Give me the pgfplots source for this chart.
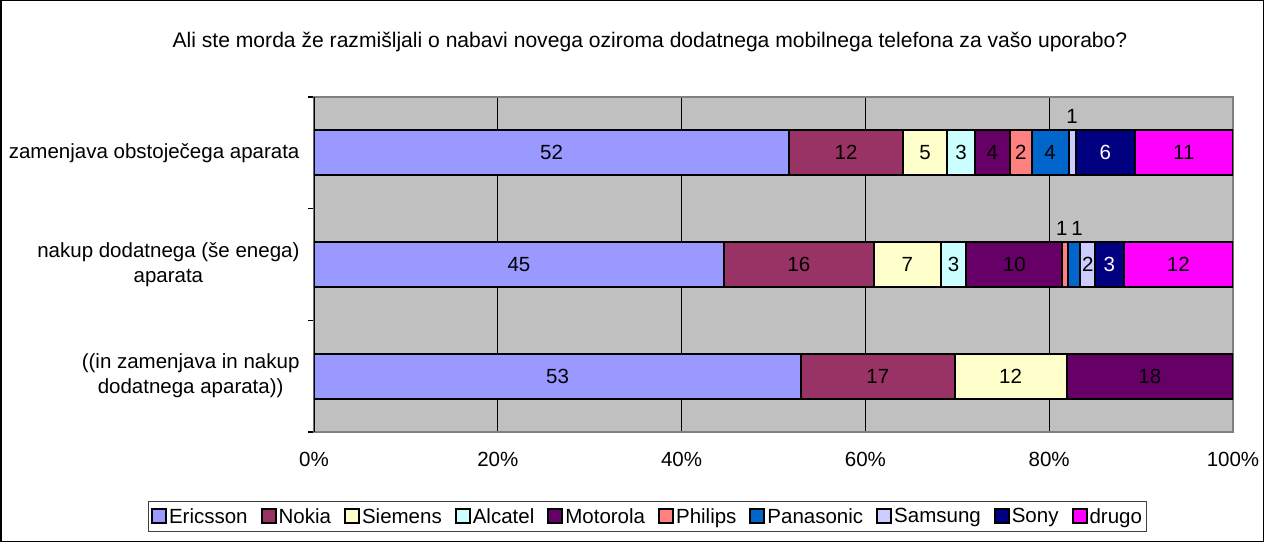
\documentclass[border=0pt]{standalone}
\usepackage{pgfplots}
\usepackage{pgfplotstable}
\pgfplotsset{compat=1.18}
\usepackage{fontspec}
\setmainfont{Liberation Sans}
\definecolor{cE}{HTML}{9999FF}
\definecolor{cN}{HTML}{993366}
\definecolor{cS}{HTML}{FFFFCC}
\definecolor{cA}{HTML}{CCFFFF}
\definecolor{cM}{HTML}{660066}
\definecolor{cPh}{HTML}{FF8080}
\definecolor{cPa}{HTML}{0066CC}
\definecolor{cSa}{HTML}{CCCCFF}
\definecolor{cSo}{HTML}{000080}
\definecolor{cD}{HTML}{FF00FF}
\definecolor{plotbg}{HTML}{C0C0C0}
\definecolor{frame}{HTML}{808080}

\pgfplotstableread{
y  E    N    S    A   M    Ph  Pa  Sa  So  D
2  51.7 12.4 4.8  3.0 3.8  2.4 4.0 0.8 6.4 10.7
1  44.6 16.3 7.3  2.8 10.4 0.6 1.4 1.6 3.1 11.9
0  53.0 16.7 12.2 0   18.1 0   0   0   0   0
}\data

\begin{document}
\begin{tikzpicture}[x=1pt,y=1pt]
\useasboundingbox (0,0) rectangle (1264,542);
\draw[black,line width=1.5pt] (0.75,0.75) rectangle (1263.25,541.25);
\node[font=\fontsize{21.1}{25}\selectfont] at (650,500) {Ali ste morda že razmišljali o nabavi novega oziroma dodatnega mobilnega telefona za vašo uporabo?};
\begin{axis}[
  at={(314pt,110pt)}, anchor=south west,
  scale only axis, width=919pt, height=335pt,
  xbar stacked, bar width=45pt,
  xmin=0, xmax=100, ymin=-0.5, ymax=2.5,
  axis background/.style={fill=plotbg},
  axis line style={draw=frame, line width=2pt},
  xtick={0,20,40,60,80,100},
  xticklabels={0\%,20\%,40\%,60\%,80\%,100\%},
  xmajorgrids, major grid style={black, line width=1pt},
  ytick={0,1,2},
  yticklabels={{((in zamenjava in nakup\\dodatnega aparata))},{nakup dodatnega (še enega)\\aparata},{zamenjava obstoječega aparata}},
  minor ytick={-0.5,0.5,1.5,2.5},
  ytick pos=left, xtick pos=bottom,
  major tick length=0pt, minor tick length=6pt,
  tick align=outside, tick style={black, line width=1.5pt},
  xticklabel style={font=\fontsize{20.5}{25}\selectfont, yshift=-17pt},
  yticklabel style={font=\fontsize{20.5}{25}\selectfont, align=center, xshift=-11pt},
  /pgf/number format/assume math mode=true,
  every axis plot/.append style={draw=black, line width=2pt},
  nodes near coords={\pgfmathparse{\rawv>0.01}\ifnum\pgfmathresult=1 \pgfmathprintnumber[fixed,precision=0]{\rawv}\fi},
  every node near coord/.append style={anchor=center, font=\fontsize{20.5}{25}\selectfont, text=black,
     yshift={(\rawv<1.5)*36pt}},
  legend columns=10,
  legend style={at={(0.3629,-0.2522)}, anchor=center, draw=black!75, line width=1pt,
     font=\fontsize{20.5}{25}\selectfont, inner xsep=3pt, inner ysep=5pt,
     /tikz/every even column/.append style={column sep=11pt}},
  legend image code/.code={\draw[#1,draw=black,line width=2pt] (0pt,-7pt) rectangle (14pt,7pt);},
]
\addplot[fill=cE, visualization depends on={\thisrow{E} \as \rawv}] table[x=E,y=y]{\data};
\addplot[fill=cN, visualization depends on={\thisrow{N} \as \rawv}] table[x=N,y=y]{\data};
\addplot[fill=cS, visualization depends on={\thisrow{S} \as \rawv}] table[x=S,y=y]{\data};
\addplot[fill=cA, visualization depends on={\thisrow{A} \as \rawv}] table[x=A,y=y]{\data};
\addplot[fill=cM, visualization depends on={\thisrow{M} \as \rawv}] table[x=M,y=y]{\data};
\addplot[fill=cPh, visualization depends on={\thisrow{Ph} \as \rawv}, every node near coord/.append style={xshift={(\rawv<1.5)*-3pt}}] table[x=Ph,y=y]{\data};
\addplot[fill=cPa, visualization depends on={\thisrow{Pa} \as \rawv}, every node near coord/.append style={xshift={(\rawv<1.5)*3pt}}] table[x=Pa,y=y]{\data};
\addplot[fill=cSa, visualization depends on={\thisrow{Sa} \as \rawv}] table[x=Sa,y=y]{\data};
\addplot[fill=cSo, visualization depends on={\thisrow{So} \as \rawv}, every node near coord/.append style={text=white}] table[x=So,y=y]{\data};
\addplot[fill=cD, visualization depends on={\thisrow{D} \as \rawv}] table[x=D,y=y]{\data};
\legend{Ericsson,Nokia,Siemens,Alcatel,Motorola,Philips,Panasonic,Samsung,Sony,drugo}
\draw[black, line width=2pt] (rel axis cs:0,0) -- (rel axis cs:0,1);
\end{axis}
\end{tikzpicture}
\end{document}
